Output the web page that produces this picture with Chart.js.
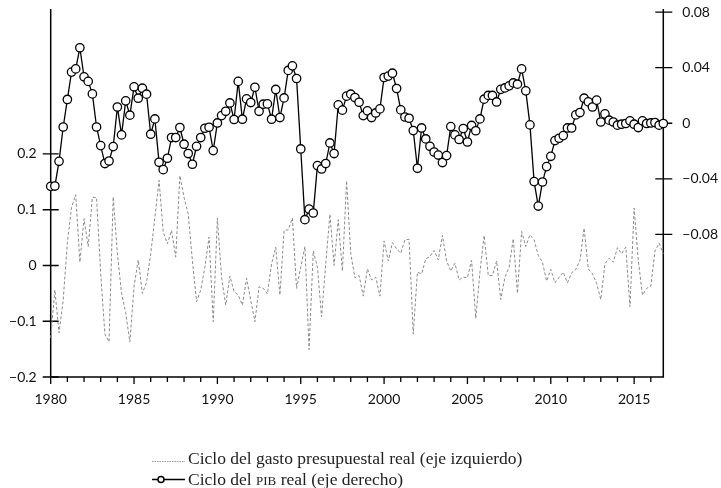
<!DOCTYPE html>
<html>
<head>
<meta charset="utf-8">
<script src="https://cdn.jsdelivr.net/npm/chart.js@4"></script>
<style>
  html, body { margin: 0; padding: 0; background: #fff; }
  #wrap { width: 721px; height: 488px; }
</style>
</head>
<body>
<div id="wrap"><canvas id="chart" width="721" height="488"></canvas></div>
<script>
// Quarterly data, 1980Q1 - 2016Q4
const startYear = 1980;

// Ciclo del gasto presupuestal real (left axis)
const gastoCycle = [-0.130,-0.044,-0.121,-0.062,0.041,0.104,0.127,0.006,0.084,0.034,
  0.122,0.122,-0.014,-0.123,-0.137,0.123,0.022,-0.050,-0.085,-0.137,
  -0.038,0.010,-0.050,-0.030,0.021,0.086,0.153,0.060,0.039,0.063,
  0.015,0.161,0.122,0.092,0.009,-0.065,-0.044,-0.003,0.051,-0.101,
  0.085,-0.021,-0.071,-0.019,-0.047,-0.053,-0.071,-0.023,-0.062,-0.101,
  -0.038,-0.041,-0.051,0.003,0.033,-0.053,0.063,0.064,0.085,-0.041,
  -0.003,0.034,-0.151,0.026,-0.003,-0.092,0.003,0.092,0.000,0.082,
  -0.010,0.152,0.021,-0.022,-0.018,-0.055,-0.006,-0.026,-0.021,-0.055,
  0.044,0.008,0.041,0.030,0.022,0.046,0.047,-0.123,-0.012,-0.015,
  0.012,0.016,0.027,0.010,0.054,0.008,-0.010,0.004,-0.026,-0.021,
  -0.022,0.009,-0.095,-0.012,0.054,-0.018,-0.018,0.008,-0.061,-0.021,
  -0.003,0.048,-0.050,0.061,0.034,0.055,0.046,0.018,0.006,-0.028,
  -0.007,-0.031,-0.021,-0.012,-0.031,-0.013,-0.007,0.009,0.067,-0.006,
  -0.015,-0.032,-0.061,0.003,0.013,0.006,0.032,0.021,0.033,-0.074,
  0.103,0.009,-0.053,-0.041,-0.037,0.026,0.040,0.021];

// Ciclo del PIB real (right axis)
const pibCycle = [-0.0454,-0.0452,-0.0274,-0.0027,0.0171,0.0368,0.0391,0.0543,0.0334,0.0301,
  0.0211,-0.0027,-0.0161,-0.0290,-0.0272,-0.0168,0.0117,-0.0084,0.0161,0.0058,
  0.0262,0.0180,0.0252,0.0209,-0.0079,0.0031,-0.0281,-0.0334,-0.0252,-0.0103,
  -0.0103,-0.0031,-0.0151,-0.0218,-0.0295,-0.0166,-0.0103,-0.0036,-0.0029,-0.0197,
  0.0002,0.0055,0.0086,0.0146,0.0027,0.0301,0.0029,0.0175,0.0149,0.0259,
  0.0086,0.0137,0.0139,0.0029,0.0243,0.0041,0.0182,0.0380,0.0413,0.0322,
  -0.0185,-0.0694,-0.0618,-0.0646,-0.0305,-0.0329,-0.0290,-0.0142,-0.0218,0.0132,
  0.0094,0.0195,0.0209,0.0185,0.0151,0.0055,0.0089,0.0041,0.0074,0.0103,
  0.0329,0.0339,0.0360,0.0250,0.0096,0.0045,0.0036,-0.0053,-0.0324,-0.0034,
  -0.0113,-0.0166,-0.0207,-0.0229,-0.0283,-0.0233,-0.0024,-0.0084,-0.0117,-0.0038,
  -0.0135,-0.0016,-0.0054,0.0031,0.0173,0.0200,0.0200,0.0153,0.0244,0.0254,
  0.0269,0.0290,0.0281,0.0391,0.0233,-0.0012,-0.0420,-0.0596,-0.0423,-0.0312,
  -0.0238,-0.0125,-0.0108,-0.0089,-0.0034,-0.0034,0.0060,0.0077,0.0180,0.0154,
  0.0117,0.0166,0.0009,0.0067,0.0022,0.0009,-0.0014,-0.0007,-0.0002,0.0017,
  -0.0007,-0.0031,0.0017,-0.0002,0.0002,0.0005,-0.0014,-0.0002];

// tick labels
const leftTicks = [-0.2, -0.1, 0, 0.1, 0.2];
const rightTicks = [-0.08, -0.04, 0, 0.04, 0.08];
const yearTicks = [1980, 1985, 1990, 1995, 2000, 2005, 2010, 2015];

const legendGasto = 'Ciclo del gasto presupuestal real (eje izquierdo)';
const legendPib = ['Ciclo del ', 'PIB', ' real (eje derecho)'];

const toPoints = arr => arr.map((v, i) => ({ x: startYear + i / 4, y: v }));
const fmt = v => v === 0 ? '0' : (v < 0 ? '\u2212' : '') + Math.abs(v);

const tickFont = { family: 'Lato', size: 14 };
const legendFont = '17.5px "Liberation Serif"';

// remove the extra label padding chart.js reserves, so the plot box is fixed
function noPad(s) {
    s.paddingTop = 0; s.paddingBottom = 0;
    s.paddingLeft = 0; s.paddingRight = 0;
}

// axes lines + crossing tick marks, and the legend
const axesPlugin = {
    id: 'axesPlugin',
    beforeDatasetsDraw(chart) {
        const { ctx, chartArea: a, scales } = chart;
        ctx.save();
        ctx.strokeStyle = '#000';
        ctx.lineWidth = 1.5;
        ctx.beginPath();
        ctx.moveTo(a.left, a.top); ctx.lineTo(a.left, a.bottom);
        ctx.lineTo(a.right, a.bottom); ctx.lineTo(a.right, a.top);
        ctx.stroke();
        ctx.lineWidth = 1.3;
        ctx.beginPath();
        leftTicks.forEach(v => {
            const y = scales.yL.getPixelForValue(v);
            ctx.moveTo(a.left - 8, y); ctx.lineTo(a.left + 8, y);
        });
        rightTicks.forEach(v => {
            const y = scales.yR.getPixelForValue(v);
            ctx.moveTo(a.right - 8, y); ctx.lineTo(a.right + 9, y);
        });
        for (let yr = 1980; yr <= 2016; yr++) {
            const x = scales.x.getPixelForValue(yr);
            ctx.moveTo(x, a.bottom); ctx.lineTo(x, a.bottom + (yr % 5 === 0 ? 7 : 5));
        }
        ctx.stroke();
        ctx.restore();
    },
    afterDraw(chart) {
        const ctx = chart.ctx;
        ctx.save();
        ctx.textBaseline = 'alphabetic';
        // dotted sample
        ctx.strokeStyle = '#999';
        ctx.lineWidth = 1;
        ctx.setLineDash([1.5, 1]);
        ctx.beginPath(); ctx.moveTo(152, 461.5); ctx.lineTo(185, 461.5); ctx.stroke();
        ctx.setLineDash([]);
        ctx.fillStyle = '#222';
        ctx.font = legendFont;
        ctx.fillText(legendGasto, 188, 464);
        // line + circle sample
        ctx.strokeStyle = '#000';
        ctx.lineWidth = 1.5;
        ctx.beginPath(); ctx.moveTo(152, 479.5); ctx.lineTo(185, 479.5); ctx.stroke();
        ctx.fillStyle = '#fff';
        ctx.beginPath(); ctx.arc(161, 479.5, 3, 0, Math.PI * 2); ctx.fill(); ctx.stroke();
        ctx.fillStyle = '#222';
        let x = 188;
        ctx.font = legendFont;
        ctx.fillText(legendPib[0], x, 485);
        x += ctx.measureText(legendPib[0]).width;
        ctx.font = '13px "Liberation Serif"';
        ctx.fillText(legendPib[1], x, 485);
        x += ctx.measureText(legendPib[1]).width;
        ctx.font = legendFont;
        ctx.fillText(legendPib[2], x, 485);
        ctx.restore();
    }
};

new Chart(document.getElementById('chart'), {
    type: 'line',
    data: {
        datasets: [
            {
                label: legendGasto,
                data: toPoints(gastoCycle),
                yAxisID: 'yL',
                borderColor: '#8a8a8a',
                borderWidth: 1,
                borderDash: [3, 2],
                pointRadius: 0,
                tension: 0,
                clip: false,
                order: 2
            },
            {
                label: legendPib.join(''),
                data: toPoints(pibCycle),
                yAxisID: 'yR',
                borderColor: '#000',
                borderWidth: 1.3,
                pointRadius: 4.2,
                pointBorderWidth: 1.3,
                pointBackgroundColor: '#fff',
                pointBorderColor: '#000',
                tension: 0,
                clip: false,
                order: 1
            }
        ]
    },
    options: {
        responsive: false,
        animation: false,
        layout: { padding: { top: 9, bottom: 81, left: 0, right: 0 } },
        plugins: { legend: { display: false }, tooltip: { enabled: false } },
        scales: {
            x: {
                type: 'linear',
                min: 1980,
                max: 2016.75,
                grid: { display: false, drawTicks: false },
                border: { display: false },
                afterBuildTicks: s => { s.ticks = yearTicks.map(v => ({ value: v })); },
                afterFit: s => { s.height = 30; noPad(s); },
                ticks: { color: '#111', font: tickFont, padding: 14, maxRotation: 0, callback: v => String(v) }
            },
            yL: {
                position: 'left',
                min: -0.2,
                max: 0.46,
                grid: { display: false, drawTicks: false },
                border: { display: false },
                afterBuildTicks: s => { s.ticks = leftTicks.map(v => ({ value: v })); },
                afterFit: s => { s.width = 50.7; noPad(s); },
                ticks: { color: '#111', font: tickFont, padding: 14, callback: v => fmt(v) }
            },
            yR: {
                position: 'right',
                min: -0.1826,
                max: 0.0822,
                grid: { display: false, drawTicks: false },
                border: { display: false },
                afterBuildTicks: s => { s.ticks = rightTicks.map(v => ({ value: v })); },
                afterFit: s => { s.width = 57.7; noPad(s); },
                ticks: { color: '#111', font: tickFont, padding: 19, callback: v => fmt(v) }
            }
        }
    },
    plugins: [axesPlugin]
});
</script>
</body>
</html>
